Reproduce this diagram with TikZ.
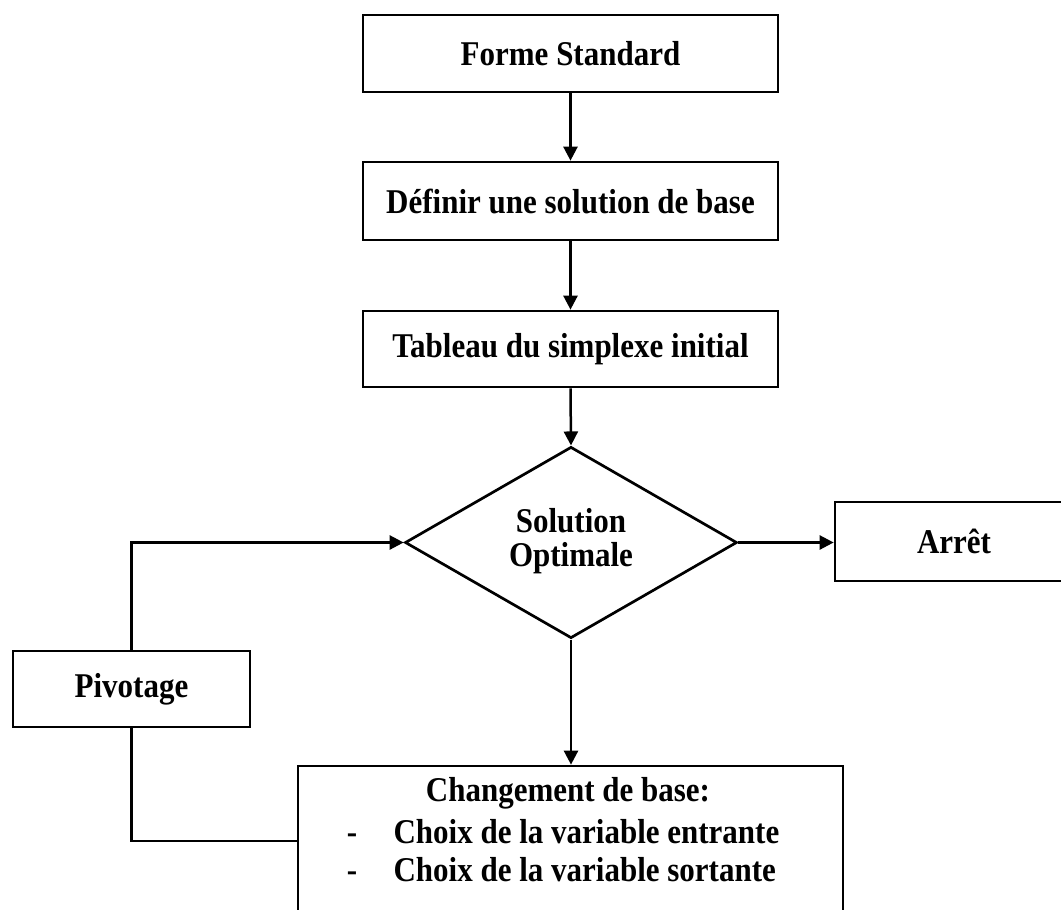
\documentclass[tikz,border=0pt]{standalone}
\usepackage{fontspec}
\setmainfont{Liberation Serif}
\usetikzlibrary{arrows.meta,shapes.geometric}
\newcommand{\vtxt}[1]{\scalebox{1}[1.12]{#1}}
\begin{document}
\begin{tikzpicture}[x=1pt,y=-1pt,
  txt/.style={font=\fontsize{31}{28.6}\selectfont\bfseries},
  box/.style={draw, rectangle, line width=2.7pt, inner sep=0pt, txt},
  decision/.style={draw, diamond, line width=2.7pt, inner sep=0pt, align=center, txt},
  arr/.style={-{Triangle[length=14pt,width=14pt]}, line width=2.5pt},
  link/.style={line width=2.5pt}]
\useasboundingbox (0,0) rectangle (1061,910);
\clip (0,0) rectangle (1061,910);
\node[box, minimum width=415, minimum height=77] (forme) at (570.5,53.5) {\vtxt{Forme Standard}};
\node[box, minimum width=415, minimum height=78] (def) at (570.5,201) {\vtxt{Définir une solution de base}};
\node[box, minimum width=415, minimum height=76] (tab) at (570.5,349) {\vtxt{Tableau du simplexe initial}};
\node[decision, minimum width=332, minimum height=191] (dia) at (571,542.5) {\vtxt{\begin{tabular}{@{}c@{}}Solution\\Optimale\end{tabular}}};
\node[box, minimum width=238, minimum height=79] (arret) at (954,541.5) {\vtxt{Arrêt}};
\node[box, minimum width=237, minimum height=76] (piv) at (131.5,689) {\vtxt{Pivotage}};
\node[box, minimum width=545, minimum height=150] (chg) at (570.5,841) {};
\node[txt, anchor=base] (chg1) at (568,801) {\vtxt{Changement de base:}};
\node[txt, anchor=base] (dash1) at (352,843) {\vtxt{-}};
\node[txt, anchor=base west] (chg2) at (390,843) {\vtxt{Choix de la variable entrante}};
\node[txt, anchor=base] (dash2) at (352,881) {\vtxt{-}};
\node[txt, anchor=base west] (chg3) at (390,881) {\vtxt{Choix de la variable sortante}};
\draw[arr] (forme) -- (def);
\draw[arr] (def) -- (tab);
\draw[arr] (tab.south) -- (dia.north);
\draw[arr] (dia.east) -- (dia.east -| arret.west);
\draw[arr] (dia.south) -- (dia.south |- chg.north);
\draw[arr] (piv.north) |- (dia.west);
\draw[link] (chg.west) -| (piv.south);
\end{tikzpicture}
\end{document}
